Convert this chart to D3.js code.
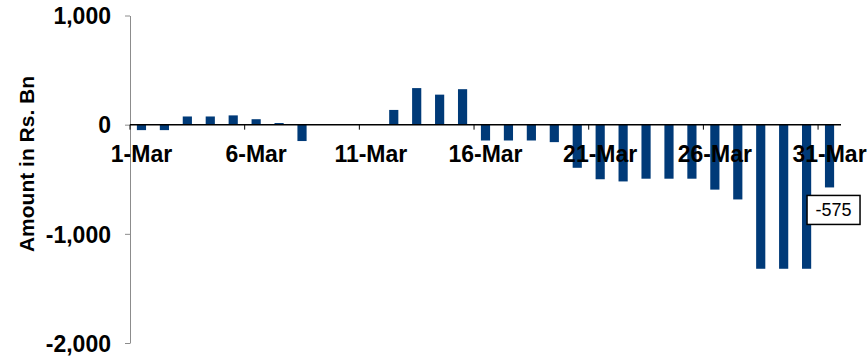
<!DOCTYPE html>
<html lang="en">
  <head>
    <meta charset="UTF-8" />
    <title>Amount in Rs. Bn - March</title>
    <style>
      body {
        margin: 0;
        background-color: #ffffff;
      }
      svg text {
        font-family: "Liberation Sans", Arial, sans-serif;
      }
    </style>
  </head>
  <body>
    <div id="chart"></div>

    <script src="https://d3js.org/d3.v7.min.js"></script>
    <script>
      // Data
      const days = d3.range(1, 32).map((d) => d + "-Mar");
      const amounts = [
        -50, -50, 75, 75, 85, 50, 15, -150, 0, 0, 0, 135, 335, 275, 325,
        -145, -145, -145, -160, -395, -500, -520, -495, -495, -495, -595,
        -685, -1320, -1320, -1320, -575,
      ];
      const yTicks = [-2000, -1000, 0, 1000];
      const xLabelDays = ["1-Mar", "6-Mar", "11-Mar", "16-Mar", "21-Mar", "26-Mar", "31-Mar"];
      const labelledDay = "31-Mar";

      const width = 868;
      const height = 357;
      const plotLeft = 130;
      const plotRight = 841;

      // plain hyphen for negatives, like the original
      const fmt = (v) => d3.format(",")(v).replace("\u2212", "-");

      const svg = d3
        .select("#chart")
        .append("svg")
        .attr("width", width)
        .attr("height", height);

      const x = d3
        .scaleBand()
        .domain(days)
        .range([plotLeft, plotRight])
        .paddingInner(0.6)
        .paddingOuter(0.3);

      const y = d3.scaleLinear().domain([-2000, 1000]).range([343, 15.5]);

      // y axis
      const yAxis = svg
        .append("g")
        .attr("transform", "translate(" + plotLeft + ",0)")
        .call(
          d3
            .axisLeft(y)
            .tickValues(yTicks)
            .tickFormat(fmt)
            .tickSize(5)
            .tickSizeOuter(0)
        );
      yAxis.select(".domain").attr("stroke", "#8c8c8c");
      yAxis.selectAll(".tick line").attr("stroke", "#8c8c8c");
      yAxis
        .selectAll(".tick text")
        .attr("x", -19)
        .attr("dy", "0.36em")
        .style("font-size", "23px")
        .style("font-weight", "bold")
        .attr("fill", "#000");

      // axis title
      svg
        .append("text")
        .attr("transform", "translate(34,164) rotate(-90)")
        .attr("text-anchor", "middle")
        .style("font-size", "21px")
        .style("font-weight", "bold")
        .text("Amount in Rs. Bn");

      // bars
      svg
        .append("g")
        .selectAll("rect")
        .data(days)
        .join("rect")
        .attr("x", (d) => x(d))
        .attr("width", x.bandwidth())
        .attr("y", (d, i) => y(Math.max(0, amounts[i])))
        .attr("height", (d, i) => Math.abs(y(amounts[i]) - y(0)))
        .attr("fill", "#003a78");

      // x axis line at zero
      const y0 = y(0);
      svg
        .append("line")
        .attr("x1", plotLeft)
        .attr("x2", plotRight)
        .attr("y1", y0)
        .attr("y2", y0)
        .attr("stroke", "#000")
        .attr("stroke-width", 1.5);

      const boundary = (d) => x(d) - (x.step() * x.paddingInner()) / 2;

      svg
        .append("g")
        .selectAll("line")
        .data(xLabelDays)
        .join("line")
        .attr("x1", boundary)
        .attr("x2", boundary)
        .attr("y1", y0)
        .attr("y2", y0 + 5)
        .attr("stroke", "#000");

      svg
        .append("g")
        .selectAll("text")
        .data(xLabelDays)
        .join("text")
        .attr("x", (d) => x(d) + x.bandwidth() / 2)
        .attr("y", y0 + 37)
        .attr("text-anchor", "middle")
        .style("font-size", "23px")
        .style("font-weight", "bold")
        .text((d) => d);

      // data label for the last bar
      const li = days.indexOf(labelledDay);
      const cx = x(labelledDay) + x.bandwidth() / 2 + 4;
      const boxTop = y(amounts[li]) + 8;
      svg
        .append("rect")
        .attr("x", cx - 26.5)
        .attr("y", boxTop)
        .attr("width", 53)
        .attr("height", 29)
        .attr("fill", "#fff")
        .attr("stroke", "#000")
        .attr("stroke-width", 1.5);
      svg
        .append("text")
        .attr("x", cx)
        .attr("y", boxTop + 21)
        .attr("text-anchor", "middle")
        .style("font-size", "18px")
        .text(fmt(amounts[li]));
    </script>
  </body>
</html>
